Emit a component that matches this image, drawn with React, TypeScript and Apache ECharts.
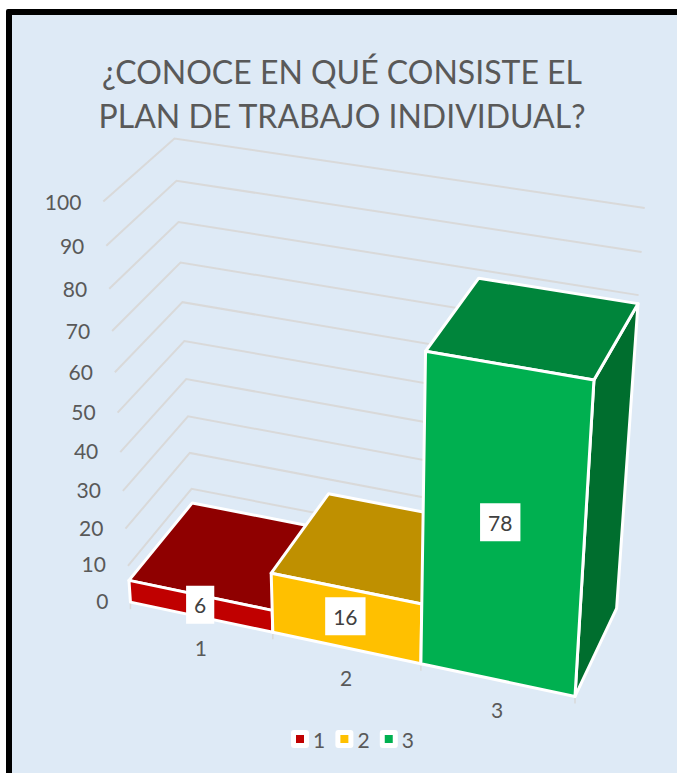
import React, { useEffect, useRef } from "react";
import * as echarts from "echarts";

const titleText = "¿CONOCE EN QUÉ CONSISTE EL\nPLAN DE TRABAJO INDIVIDUAL?";
const categories = ["1", "2", "3"];
const values = [6, 16, 78];
const yTicks = [0, 10, 20, 30, 40, 50, 60, 70, 80, 90, 100];
const frontColors = ["#C00000", "#FFC000", "#00B050"];
const topColors = ["#8F0000", "#BF9000", "#00853B"];
const sideColors = ["#700000", "#8F6C00", "#006E2E"];

const FONT = "Lato, Carlito, 'Open Sans', sans-serif";
const TEXT = "#595959";

// Camera of the 3-D view: [column edge, value, depth] seen at [px, py] in the picture.
const cameraFit: number[][] = [
  [0, 0, 0, 130.7, 601.7], [1, 0, 0, 272, 631.7], [2, 0, 0, 421, 663], [3, 0, 0, 575.7, 696],
  [0, 100, 0, 103, 201.7], [0, 10, 0, 127.7, 566.7], [0, 80, 0, 109, 288.7],
  [0, 100, 1, 175, 138.3], [0, 10, 1, 191.7, 488.7], [0, 80, 1, 179, 221.7],
  [3, 100, 1, 645, 207.7], [3, 80, 1, 639, 295], [3, 0, 1, 617, 609],
  [3, 78, 0, 594, 380], [2, 78, 0, 426, 351.7], [2, 78, 1, 478, 278], [3, 78, 1, 637, 304],
  [2, 16, 0, 421, 604], [1, 16, 0, 272, 574], [1, 16, 1, 328, 494],
];

function solveCamera(rows: number[][]): number[] {
  const A: number[][] = [];
  const b: number[] = [];
  for (const [X, V, Z, u0, v0] of rows) {
    const Y = V / 100, u = u0 / 600, v = v0 / 600;
    A.push([X, Y, Z, 1, 0, 0, 0, 0, -u * X, -u * Y, -u * Z]); b.push(u);
    A.push([0, 0, 0, 0, X, Y, Z, 1, -v * X, -v * Y, -v * Z]); b.push(v);
  }
  const n = 11;
  const M: number[][] = [];
  for (let i = 0; i < n; i++) {
    const r: number[] = [];
    for (let j = 0; j < n; j++) r.push(A.reduce((s, a) => s + a[i] * a[j], 0));
    r.push(A.reduce((s, a, k) => s + a[i] * b[k], 0));
    M.push(r);
  }
  for (let c = 0; c < n; c++) {
    let p = c;
    for (let r = c + 1; r < n; r++) if (Math.abs(M[r][c]) > Math.abs(M[p][c])) p = r;
    [M[c], M[p]] = [M[p], M[c]];
    for (let r = 0; r < n; r++) {
      if (r === c) continue;
      const f = M[r][c] / M[c][c];
      for (let k = c; k <= n; k++) M[r][k] -= f * M[c][k];
    }
  }
  return M.map((r, i) => r[n] / r[i]);
}

const cam = solveCamera(cameraFit);

function project(X: number, V: number, Z: number): number[] {
  const Y = V / 100;
  const w = cam[8] * X + cam[9] * Y + cam[10] * Z + 1;
  return [
    ((cam[0] * X + cam[1] * Y + cam[2] * Z + cam[3]) / w) * 600,
    ((cam[4] * X + cam[5] * Y + cam[6] * Z + cam[7]) / w) * 600,
  ];
}

// Reads a datum back through the hidden axes: column edges in bands, value in axis units.
function readDatum(params: any, api: any) {
  const sys = params.coordSys;
  const band = api.size([1, 0])[0];
  const [px, py] = api.coord([api.value(0), api.value(1)]);
  const left = (px - sys.x) / band - 0.5;
  const value = ((sys.y + sys.height - py) / sys.height) * 100;
  return { left, value };
}

const poly = (pts: number[][], fill: string, stroke = "#FFFFFF", lineWidth = 3) => ({
  type: "polygon",
  shape: { points: pts },
  style: { fill, stroke, lineWidth, lineJoin: "round" },
});

const label = (x: number, y: number, text: string, align: string, extra: any = {}) => ({
  type: "text",
  x,
  y,
  style: { text, align, verticalAlign: "middle", fill: TEXT, fontSize: 21, fontFamily: FONT, ...extra },
});

const renderWall = (params: any, api: any) => {
  const { value } = readDatum(params, api);
  const [x, y] = project(0, value, 0);
  return {
    type: "group",
    children: [
      {
        type: "polyline",
        shape: { points: [project(0, value, 0), project(0, value, 1), project(3, value, 1)] },
        style: { fill: "none", stroke: "#D9D9D9", lineWidth: 2 },
      },
      label(x - 22, y - 2 + value * 0.02, String(Math.round(value)), "right"),
    ],
  };
};

const renderCategoryAxis = (params: any, api: any) => {
  const { left } = readDatum(params, api);
  const [lx, ly] = project(left, 0, 0);
  const [cx, cy] = project(left + 0.5, 0, 0);
  const children: any[] = [
    { type: "line", shape: { x1: lx, y1: ly, x2: lx, y2: ly + 7 }, style: { stroke: "#D9D9D9", lineWidth: 1.5 } },
    label(cx, cy + 30, categories[Math.round(left)], "center"),
  ];
  if (Math.round(left) === categories.length - 1) {
    const [rx, ry] = project(left + 1, 0, 0);
    children.push({ type: "line", shape: { x1: rx, y1: ry, x2: rx, y2: ry + 7 }, style: { stroke: "#D9D9D9", lineWidth: 1.5 } });
  }
  return { type: "group", children };
};

const renderBar = (i: number) => (params: any, api: any) => {
  const { left, value } = readDatum(params, api);
  const r = left + 1;
  const [lx, ly] = project(left + 0.5, value * 0.52, 0);
  return {
    type: "group",
    children: [
      poly([project(r, 0, 0), project(r, 0, 1), project(r, value, 1), project(r, value, 0)], sideColors[i]),
      poly([project(left, value, 0), project(r, value, 0), project(r, value, 1), project(left, value, 1)], topColors[i]),
      poly([project(left, 0, 0), project(r, 0, 0), project(r, value, 0), project(left, value, 0)], frontColors[i]),
      label(lx - value * 0.035, ly - 1, String(Math.round(value)), "center", {
        fill: "#404040",
        backgroundColor: "#FFFFFF",
        padding: [8, 8, 7, 8],
        lineHeight: 23,
      }),
    ],
  };
};

export default function App() {
  const ref = useRef<HTMLDivElement>(null);
  useEffect(() => {
    const chart = echarts.init(ref.current!, undefined, { renderer: "svg" });
    chart.setOption({
      animation: false,
      backgroundColor: "transparent",
      title: {
        text: titleText,
        left: 337,
        top: 44,
        textAlign: "center",
        textStyle: { color: TEXT, fontSize: 32, fontWeight: "normal", fontFamily: FONT, lineHeight: 44 },
      },
      graphic: categories.map((_, i) => ({
        type: "rect",
        silent: true,
        z: 0,
        shape: { x: 291 + i * 44.4, y: 730, width: 18, height: 18, r: 3 },
        style: { fill: "#FFFFFF" },
      })),
      legend: {
        data: categories,
        left: 296,
        top: 728.5,
        padding: 0,
        icon: "rect",
        itemWidth: 8,
        itemHeight: 8,
        itemGap: 15.2,
        selectedMode: false,
        textStyle: { color: TEXT, fontSize: 21, fontFamily: FONT, padding: [0, 0, 0, 4] },
      },
      grid: { left: 100, right: 100, top: 200, bottom: 200 },
      xAxis: { type: "category", data: categories, show: false },
      yAxis: { type: "value", min: 0, max: 100, show: false },
      series: [
        {
          type: "custom",
          name: "walls",
          silent: true,
          data: yTicks.map((t) => [0, t]),
          encode: { x: 0, y: 1 },
          renderItem: renderWall,
          z: 1,
        },
        {
          type: "custom",
          name: "categoryAxis",
          silent: true,
          data: categories.map((_, i) => [i, 0]),
          encode: { x: 0, y: 1 },
          renderItem: renderCategoryAxis,
          z: 1,
        },
        ...categories.map((c, i) => ({
          type: "custom",
          name: c,
          silent: true,
          data: [[i, values[i]]],
          encode: { x: 0, y: 1 },
          itemStyle: { color: frontColors[i] },
          renderItem: renderBar(i),
          z: 2 + i,
        })),
      ],
    });
    return () => chart.dispose();
  }, []);
  return (
    <div style={{ position: "absolute", left: 0, top: 0, width: 677, height: 773, background: "#FFFFFF", overflow: "hidden" }}>
      <div
        style={{
          position: "absolute",
          left: 6,
          top: 9,
          width: 720,
          height: 820,
          boxSizing: "border-box",
          border: "6px solid #000000",
          borderRadius: 2,
          background: "#DEEAF6",
        }}
      />
      <div ref={ref} style={{ position: "absolute", left: 0, top: 0, width: 677, height: 773 }} />
    </div>
  );
}
